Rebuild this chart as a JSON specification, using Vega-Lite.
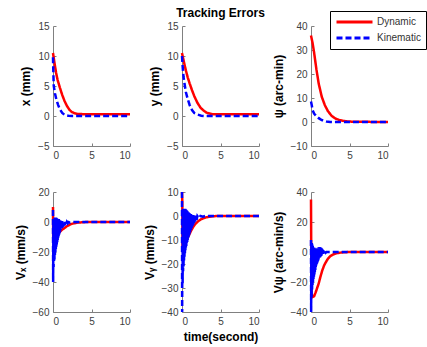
{
  "$schema": "https://vega.github.io/schema/vega-lite/v6.json",
  "padding": {"left": 14, "top": 7, "right": 5, "bottom": 5},
  "background": "white",
  "columns": 3,
  "spacing": {"column": 52, "row": 46},
  "bounds": "flush",
  "data": {"values": [
    {"p":"x","m":"Dynamic","t":0,"v":10.5},{"p":"x","m":"Dynamic","t":0.2,"v":8.8},{"p":"x","m":"Dynamic","t":0.4,"v":7.2},{"p":"x","m":"Dynamic","t":0.6,"v":6},{"p":"x","m":"Dynamic","t":0.9,"v":4.7},{"p":"x","m":"Dynamic","t":1.2,"v":3.5},{"p":"x","m":"Dynamic","t":1.5,"v":2.5},{"p":"x","m":"Dynamic","t":1.8,"v":1.7},{"p":"x","m":"Dynamic","t":2.1,"v":1.1},{"p":"x","m":"Dynamic","t":2.4,"v":0.7},{"p":"x","m":"Dynamic","t":2.8,"v":0.45},{"p":"x","m":"Dynamic","t":3.2,"v":0.35},{"p":"x","m":"Dynamic","t":4,"v":0.3},{"p":"x","m":"Dynamic","t":10,"v":0.3},
    {"p":"x","m":"Kinematic","t":0,"v":9.8},{"p":"x","m":"Kinematic","t":0.05,"v":7},{"p":"x","m":"Kinematic","t":0.1,"v":5},{"p":"x","m":"Kinematic","t":0.25,"v":3.8},{"p":"x","m":"Kinematic","t":0.45,"v":2.7},{"p":"x","m":"Kinematic","t":0.65,"v":1.9},{"p":"x","m":"Kinematic","t":0.9,"v":1.1},{"p":"x","m":"Kinematic","t":1.2,"v":0.5},{"p":"x","m":"Kinematic","t":1.5,"v":0.2},{"p":"x","m":"Kinematic","t":2,"v":0.05},{"p":"x","m":"Kinematic","t":2.5,"v":0},{"p":"x","m":"Kinematic","t":10,"v":0},

    {"p":"y","m":"Dynamic","t":0,"v":10.5},{"p":"y","m":"Dynamic","t":0.25,"v":9},{"p":"y","m":"Dynamic","t":0.5,"v":7.6},{"p":"y","m":"Dynamic","t":0.75,"v":6.4},{"p":"y","m":"Dynamic","t":1,"v":5.4},{"p":"y","m":"Dynamic","t":1.3,"v":4.3},{"p":"y","m":"Dynamic","t":1.6,"v":3.3},{"p":"y","m":"Dynamic","t":2,"v":2.2},{"p":"y","m":"Dynamic","t":2.4,"v":1.4},{"p":"y","m":"Dynamic","t":2.8,"v":0.9},{"p":"y","m":"Dynamic","t":3.2,"v":0.55},{"p":"y","m":"Dynamic","t":3.6,"v":0.4},{"p":"y","m":"Dynamic","t":4,"v":0.3},{"p":"y","m":"Dynamic","t":10,"v":0.3},
    {"p":"y","m":"Kinematic","t":0,"v":10},{"p":"y","m":"Kinematic","t":0.1,"v":8},{"p":"y","m":"Kinematic","t":0.2,"v":6.5},{"p":"y","m":"Kinematic","t":0.35,"v":5.2},{"p":"y","m":"Kinematic","t":0.5,"v":4},{"p":"y","m":"Kinematic","t":0.75,"v":2.8},{"p":"y","m":"Kinematic","t":1,"v":1.8},{"p":"y","m":"Kinematic","t":1.3,"v":1},{"p":"y","m":"Kinematic","t":1.6,"v":0.5},{"p":"y","m":"Kinematic","t":2,"v":0.25},{"p":"y","m":"Kinematic","t":2.5,"v":0.05},{"p":"y","m":"Kinematic","t":3,"v":0},{"p":"y","m":"Kinematic","t":10,"v":0},

    {"p":"psi","m":"Dynamic","t":0,"v":36},{"p":"psi","m":"Dynamic","t":0.2,"v":33},{"p":"psi","m":"Dynamic","t":0.4,"v":29},{"p":"psi","m":"Dynamic","t":0.7,"v":22},{"p":"psi","m":"Dynamic","t":1,"v":16},{"p":"psi","m":"Dynamic","t":1.4,"v":10.5},{"p":"psi","m":"Dynamic","t":1.8,"v":7},{"p":"psi","m":"Dynamic","t":2.2,"v":4.5},{"p":"psi","m":"Dynamic","t":2.7,"v":2.5},{"p":"psi","m":"Dynamic","t":3.2,"v":1.4},{"p":"psi","m":"Dynamic","t":3.7,"v":0.8},{"p":"psi","m":"Dynamic","t":4.5,"v":0.3},{"p":"psi","m":"Dynamic","t":5.5,"v":0.1},{"p":"psi","m":"Dynamic","t":10,"v":0},
    {"p":"psi","m":"Kinematic","t":0,"v":8.5},{"p":"psi","m":"Kinematic","t":0.1,"v":7},{"p":"psi","m":"Kinematic","t":0.2,"v":5},{"p":"psi","m":"Kinematic","t":0.4,"v":3.5},{"p":"psi","m":"Kinematic","t":0.6,"v":2.8},{"p":"psi","m":"Kinematic","t":0.8,"v":2.2},{"p":"psi","m":"Kinematic","t":1,"v":1.6},{"p":"psi","m":"Kinematic","t":1.3,"v":1},{"p":"psi","m":"Kinematic","t":1.6,"v":0.5},{"p":"psi","m":"Kinematic","t":2,"v":0.2},{"p":"psi","m":"Kinematic","t":2.5,"v":0.05},{"p":"psi","m":"Kinematic","t":3,"v":0},{"p":"psi","m":"Kinematic","t":10,"v":0},

    {"p":"vx","m":"Dynamic","t":0,"v":10},{"p":"vx","m":"Dynamic","t":0.03,"v":-12},{"p":"vx","m":"Dynamic","t":0.3,"v":-10.5},{"p":"vx","m":"Dynamic","t":0.6,"v":-8.5},{"p":"vx","m":"Dynamic","t":0.9,"v":-6.5},{"p":"vx","m":"Dynamic","t":1.2,"v":-5},{"p":"vx","m":"Dynamic","t":1.5,"v":-4},{"p":"vx","m":"Dynamic","t":1.8,"v":-2.8},{"p":"vx","m":"Dynamic","t":2.1,"v":-2},{"p":"vx","m":"Dynamic","t":2.4,"v":-1.3},{"p":"vx","m":"Dynamic","t":2.8,"v":-0.8},{"p":"vx","m":"Dynamic","t":3.2,"v":-0.4},{"p":"vx","m":"Dynamic","t":4,"v":-0.1},{"p":"vx","m":"Dynamic","t":5,"v":0},{"p":"vx","m":"Dynamic","t":10,"v":0},
    {"p":"vx","m":"Kinematic","t":0,"v":8},{"p":"vx","m":"Kinematic","t":0.02,"v":-40},{"p":"vx","m":"Kinematic","t":0.05,"v":2},{"p":"vx","m":"Kinematic","t":0.08,"v":-30},{"p":"vx","m":"Kinematic","t":0.1,"v":3},{"p":"vx","m":"Kinematic","t":0.13,"v":-27},{"p":"vx","m":"Kinematic","t":0.16,"v":3},{"p":"vx","m":"Kinematic","t":0.19,"v":-25},{"p":"vx","m":"Kinematic","t":0.22,"v":3},{"p":"vx","m":"Kinematic","t":0.25,"v":-22},{"p":"vx","m":"Kinematic","t":0.28,"v":3},{"p":"vx","m":"Kinematic","t":0.31,"v":-20},{"p":"vx","m":"Kinematic","t":0.34,"v":3},{"p":"vx","m":"Kinematic","t":0.37,"v":-18},{"p":"vx","m":"Kinematic","t":0.4,"v":3},{"p":"vx","m":"Kinematic","t":0.43,"v":-16.5},{"p":"vx","m":"Kinematic","t":0.46,"v":2.5},{"p":"vx","m":"Kinematic","t":0.49,"v":-15},{"p":"vx","m":"Kinematic","t":0.52,"v":2.5},{"p":"vx","m":"Kinematic","t":0.55,"v":-13.5},{"p":"vx","m":"Kinematic","t":0.58,"v":2.5},{"p":"vx","m":"Kinematic","t":0.61,"v":-12},{"p":"vx","m":"Kinematic","t":0.64,"v":2},{"p":"vx","m":"Kinematic","t":0.67,"v":-10.5},{"p":"vx","m":"Kinematic","t":0.7,"v":2},{"p":"vx","m":"Kinematic","t":0.73,"v":-9.5},{"p":"vx","m":"Kinematic","t":0.76,"v":2},{"p":"vx","m":"Kinematic","t":0.79,"v":-8.5},{"p":"vx","m":"Kinematic","t":0.82,"v":1.5},{"p":"vx","m":"Kinematic","t":0.85,"v":-7.5},{"p":"vx","m":"Kinematic","t":0.88,"v":1.5},{"p":"vx","m":"Kinematic","t":0.91,"v":-6.5},{"p":"vx","m":"Kinematic","t":0.94,"v":1.2},{"p":"vx","m":"Kinematic","t":0.97,"v":-5.8},{"p":"vx","m":"Kinematic","t":1,"v":1},{"p":"vx","m":"Kinematic","t":1.05,"v":-5},{"p":"vx","m":"Kinematic","t":1.1,"v":0.8},{"p":"vx","m":"Kinematic","t":1.15,"v":-4.2},{"p":"vx","m":"Kinematic","t":1.2,"v":0.6},{"p":"vx","m":"Kinematic","t":1.25,"v":-3.6},{"p":"vx","m":"Kinematic","t":1.3,"v":0.4},{"p":"vx","m":"Kinematic","t":1.35,"v":-3},{"p":"vx","m":"Kinematic","t":1.4,"v":0.3},{"p":"vx","m":"Kinematic","t":1.45,"v":-2.5},{"p":"vx","m":"Kinematic","t":1.5,"v":0.2},{"p":"vx","m":"Kinematic","t":1.55,"v":-2},{"p":"vx","m":"Kinematic","t":1.6,"v":0.1},{"p":"vx","m":"Kinematic","t":1.7,"v":-1.4},{"p":"vx","m":"Kinematic","t":1.8,"v":0},{"p":"vx","m":"Kinematic","t":1.9,"v":-0.9},{"p":"vx","m":"Kinematic","t":2,"v":0},{"p":"vx","m":"Kinematic","t":2.2,"v":-0.4},{"p":"vx","m":"Kinematic","t":2.5,"v":0},{"p":"vx","m":"Kinematic","t":10,"v":0},

    {"p":"vy","m":"Dynamic","t":0,"v":10},{"p":"vy","m":"Dynamic","t":0.04,"v":6},{"p":"vy","m":"Dynamic","t":0.07,"v":-14},{"p":"vy","m":"Dynamic","t":0.3,"v":-12.5},{"p":"vy","m":"Dynamic","t":0.6,"v":-10},{"p":"vy","m":"Dynamic","t":0.9,"v":-8},{"p":"vy","m":"Dynamic","t":1.2,"v":-6},{"p":"vy","m":"Dynamic","t":1.5,"v":-4.3},{"p":"vy","m":"Dynamic","t":1.8,"v":-3.1},{"p":"vy","m":"Dynamic","t":2.1,"v":-2.2},{"p":"vy","m":"Dynamic","t":2.4,"v":-1.5},{"p":"vy","m":"Dynamic","t":2.8,"v":-0.9},{"p":"vy","m":"Dynamic","t":3.2,"v":-0.5},{"p":"vy","m":"Dynamic","t":3.8,"v":-0.2},{"p":"vy","m":"Dynamic","t":4.5,"v":0},{"p":"vy","m":"Dynamic","t":10,"v":0},
    {"p":"vy","m":"Kinematic","t":0,"v":10},{"p":"vy","m":"Kinematic","t":0.02,"v":-40},{"p":"vy","m":"Kinematic","t":0.05,"v":3},{"p":"vy","m":"Kinematic","t":0.08,"v":-28},{"p":"vy","m":"Kinematic","t":0.11,"v":3},{"p":"vy","m":"Kinematic","t":0.14,"v":-23},{"p":"vy","m":"Kinematic","t":0.17,"v":3},{"p":"vy","m":"Kinematic","t":0.2,"v":-21},{"p":"vy","m":"Kinematic","t":0.23,"v":3},{"p":"vy","m":"Kinematic","t":0.26,"v":-19},{"p":"vy","m":"Kinematic","t":0.29,"v":3},{"p":"vy","m":"Kinematic","t":0.32,"v":-17},{"p":"vy","m":"Kinematic","t":0.35,"v":3},{"p":"vy","m":"Kinematic","t":0.38,"v":-15.5},{"p":"vy","m":"Kinematic","t":0.41,"v":3},{"p":"vy","m":"Kinematic","t":0.44,"v":-14.5},{"p":"vy","m":"Kinematic","t":0.47,"v":2.8},{"p":"vy","m":"Kinematic","t":0.5,"v":-13.5},{"p":"vy","m":"Kinematic","t":0.53,"v":2.6},{"p":"vy","m":"Kinematic","t":0.56,"v":-12.5},{"p":"vy","m":"Kinematic","t":0.59,"v":2.4},{"p":"vy","m":"Kinematic","t":0.62,"v":-11.5},{"p":"vy","m":"Kinematic","t":0.65,"v":2.2},{"p":"vy","m":"Kinematic","t":0.68,"v":-10.8},{"p":"vy","m":"Kinematic","t":0.71,"v":2},{"p":"vy","m":"Kinematic","t":0.74,"v":-10},{"p":"vy","m":"Kinematic","t":0.77,"v":1.8},{"p":"vy","m":"Kinematic","t":0.8,"v":-9.3},{"p":"vy","m":"Kinematic","t":0.83,"v":1.6},{"p":"vy","m":"Kinematic","t":0.86,"v":-8.6},{"p":"vy","m":"Kinematic","t":0.89,"v":1.4},{"p":"vy","m":"Kinematic","t":0.92,"v":-8},{"p":"vy","m":"Kinematic","t":0.95,"v":1.2},{"p":"vy","m":"Kinematic","t":0.98,"v":-7.4},{"p":"vy","m":"Kinematic","t":1.01,"v":1},{"p":"vy","m":"Kinematic","t":1.06,"v":-6.6},{"p":"vy","m":"Kinematic","t":1.11,"v":0.8},{"p":"vy","m":"Kinematic","t":1.16,"v":-5.8},{"p":"vy","m":"Kinematic","t":1.21,"v":0.6},{"p":"vy","m":"Kinematic","t":1.26,"v":-5},{"p":"vy","m":"Kinematic","t":1.31,"v":0.5},{"p":"vy","m":"Kinematic","t":1.36,"v":-4.3},{"p":"vy","m":"Kinematic","t":1.41,"v":0.4},{"p":"vy","m":"Kinematic","t":1.46,"v":-3.6},{"p":"vy","m":"Kinematic","t":1.51,"v":0.3},{"p":"vy","m":"Kinematic","t":1.56,"v":-3},{"p":"vy","m":"Kinematic","t":1.61,"v":0.2},{"p":"vy","m":"Kinematic","t":1.7,"v":-2.3},{"p":"vy","m":"Kinematic","t":1.8,"v":0.1},{"p":"vy","m":"Kinematic","t":1.9,"v":-1.6},{"p":"vy","m":"Kinematic","t":2,"v":0},{"p":"vy","m":"Kinematic","t":2.2,"v":-0.9},{"p":"vy","m":"Kinematic","t":2.4,"v":0},{"p":"vy","m":"Kinematic","t":2.7,"v":-0.3},{"p":"vy","m":"Kinematic","t":3,"v":0},{"p":"vy","m":"Kinematic","t":10,"v":0},

    {"p":"vpsi","m":"Dynamic","t":0,"v":35},{"p":"vpsi","m":"Dynamic","t":0.03,"v":0},{"p":"vpsi","m":"Dynamic","t":0.08,"v":-28},{"p":"vpsi","m":"Dynamic","t":0.2,"v":-30},{"p":"vpsi","m":"Dynamic","t":0.4,"v":-29.5},{"p":"vpsi","m":"Dynamic","t":0.6,"v":-27},{"p":"vpsi","m":"Dynamic","t":0.8,"v":-24},{"p":"vpsi","m":"Dynamic","t":1,"v":-21},{"p":"vpsi","m":"Dynamic","t":1.2,"v":-17},{"p":"vpsi","m":"Dynamic","t":1.45,"v":-12.5},{"p":"vpsi","m":"Dynamic","t":1.7,"v":-9},{"p":"vpsi","m":"Dynamic","t":1.9,"v":-7},{"p":"vpsi","m":"Dynamic","t":2.2,"v":-4.5},{"p":"vpsi","m":"Dynamic","t":2.5,"v":-2.8},{"p":"vpsi","m":"Dynamic","t":2.9,"v":-1.6},{"p":"vpsi","m":"Dynamic","t":3.3,"v":-0.8},{"p":"vpsi","m":"Dynamic","t":4,"v":-0.3},{"p":"vpsi","m":"Dynamic","t":5,"v":0},{"p":"vpsi","m":"Dynamic","t":10,"v":0},
    {"p":"vpsi","m":"Kinematic","t":0,"v":8},{"p":"vpsi","m":"Kinematic","t":0.02,"v":-40},{"p":"vpsi","m":"Kinematic","t":0.05,"v":7},{"p":"vpsi","m":"Kinematic","t":0.08,"v":-30},{"p":"vpsi","m":"Kinematic","t":0.11,"v":6},{"p":"vpsi","m":"Kinematic","t":0.14,"v":-25},{"p":"vpsi","m":"Kinematic","t":0.17,"v":5},{"p":"vpsi","m":"Kinematic","t":0.2,"v":-22},{"p":"vpsi","m":"Kinematic","t":0.23,"v":4},{"p":"vpsi","m":"Kinematic","t":0.26,"v":-20},{"p":"vpsi","m":"Kinematic","t":0.29,"v":3.5},{"p":"vpsi","m":"Kinematic","t":0.32,"v":-18},{"p":"vpsi","m":"Kinematic","t":0.35,"v":3},{"p":"vpsi","m":"Kinematic","t":0.38,"v":-16.5},{"p":"vpsi","m":"Kinematic","t":0.41,"v":3},{"p":"vpsi","m":"Kinematic","t":0.44,"v":-15},{"p":"vpsi","m":"Kinematic","t":0.47,"v":2.5},{"p":"vpsi","m":"Kinematic","t":0.5,"v":-13.5},{"p":"vpsi","m":"Kinematic","t":0.53,"v":2.5},{"p":"vpsi","m":"Kinematic","t":0.56,"v":-12},{"p":"vpsi","m":"Kinematic","t":0.59,"v":2.5},{"p":"vpsi","m":"Kinematic","t":0.62,"v":-10.5},{"p":"vpsi","m":"Kinematic","t":0.65,"v":2.5},{"p":"vpsi","m":"Kinematic","t":0.68,"v":-9.5},{"p":"vpsi","m":"Kinematic","t":0.71,"v":2.5},{"p":"vpsi","m":"Kinematic","t":0.74,"v":-8.5},{"p":"vpsi","m":"Kinematic","t":0.77,"v":2.5},{"p":"vpsi","m":"Kinematic","t":0.8,"v":-7.5},{"p":"vpsi","m":"Kinematic","t":0.83,"v":2.7},{"p":"vpsi","m":"Kinematic","t":0.86,"v":-6.5},{"p":"vpsi","m":"Kinematic","t":0.89,"v":2.9},{"p":"vpsi","m":"Kinematic","t":0.92,"v":-5.8},{"p":"vpsi","m":"Kinematic","t":0.95,"v":3},{"p":"vpsi","m":"Kinematic","t":0.98,"v":-5},{"p":"vpsi","m":"Kinematic","t":1.01,"v":3.2},{"p":"vpsi","m":"Kinematic","t":1.06,"v":-4.3},{"p":"vpsi","m":"Kinematic","t":1.11,"v":3.3},{"p":"vpsi","m":"Kinematic","t":1.16,"v":-3.6},{"p":"vpsi","m":"Kinematic","t":1.21,"v":3.2},{"p":"vpsi","m":"Kinematic","t":1.26,"v":-3},{"p":"vpsi","m":"Kinematic","t":1.31,"v":2.8},{"p":"vpsi","m":"Kinematic","t":1.36,"v":-2.5},{"p":"vpsi","m":"Kinematic","t":1.41,"v":2.2},{"p":"vpsi","m":"Kinematic","t":1.46,"v":-2},{"p":"vpsi","m":"Kinematic","t":1.51,"v":1.6},{"p":"vpsi","m":"Kinematic","t":1.56,"v":-1.5},{"p":"vpsi","m":"Kinematic","t":1.61,"v":1},{"p":"vpsi","m":"Kinematic","t":1.7,"v":-1},{"p":"vpsi","m":"Kinematic","t":1.8,"v":0.5},{"p":"vpsi","m":"Kinematic","t":1.9,"v":-0.5},{"p":"vpsi","m":"Kinematic","t":2,"v":0},{"p":"vpsi","m":"Kinematic","t":10,"v":0}
  ]},
  "concat": [
    {
      "width": 77, "height": 120,
      "transform": [{"filter": "datum.p === 'x'"}],
      "mark": {"type": "line", "strokeWidth": 2.5},
      "encoding": {
        "x": {"field": "t", "type": "quantitative", "scale": {"domain": [0, 10], "nice": false}, "axis": {"values": [0, 5, 10], "title": null}},
        "y": {"field": "v", "type": "quantitative", "scale": {"domain": [-5, 15], "nice": false}, "axis": {"values": [-5, 0, 5, 10, 15], "title": "x (mm)"}},
        "color": {"field": "m", "type": "nominal", "scale": {"domain": ["Dynamic", "Kinematic"], "range": ["#ff0000", "#0000ff"]}, "legend": {"title": null}},
        "strokeDash": {"field": "m", "type": "nominal", "scale": {"domain": ["Dynamic", "Kinematic"], "range": [[1, 0], [6, 3]]}, "legend": {"title": null}}
      }
    },
    {
      "width": 77, "height": 120,
      "title": {"text": "Tracking Errors", "fontSize": 12, "fontWeight": "bold", "font": "Liberation Sans", "color": "#000000", "offset": 1},
      "transform": [{"filter": "datum.p === 'y'"}],
      "mark": {"type": "line", "strokeWidth": 2.5},
      "encoding": {
        "x": {"field": "t", "type": "quantitative", "scale": {"domain": [0, 10], "nice": false}, "axis": {"values": [0, 5, 10], "title": null}},
        "y": {"field": "v", "type": "quantitative", "scale": {"domain": [-5, 15], "nice": false}, "axis": {"values": [-5, 0, 5, 10, 15], "title": "y (mm)"}},
        "color": {"field": "m", "type": "nominal", "scale": {"domain": ["Dynamic", "Kinematic"], "range": ["#ff0000", "#0000ff"]}, "legend": {"title": null}},
        "strokeDash": {"field": "m", "type": "nominal", "scale": {"domain": ["Dynamic", "Kinematic"], "range": [[1, 0], [6, 3]]}, "legend": {"title": null}}
      }
    },
    {
      "width": 77, "height": 120,
      "transform": [{"filter": "datum.p === 'psi'"}],
      "mark": {"type": "line", "strokeWidth": 2.5},
      "encoding": {
        "x": {"field": "t", "type": "quantitative", "scale": {"domain": [0, 10], "nice": false}, "axis": {"values": [0, 5, 10], "title": null}},
        "y": {"field": "v", "type": "quantitative", "scale": {"domain": [-10, 40], "nice": false}, "axis": {"values": [-10, 0, 10, 20, 30, 40], "title": "ψ (arc-min)"}},
        "color": {"field": "m", "type": "nominal", "scale": {"domain": ["Dynamic", "Kinematic"], "range": ["#ff0000", "#0000ff"]}, "legend": {"title": null}},
        "strokeDash": {"field": "m", "type": "nominal", "scale": {"domain": ["Dynamic", "Kinematic"], "range": [[1, 0], [6, 3]]}, "legend": {"title": null}}
      }
    },
    {
      "width": 77, "height": 120,
      "transform": [{"filter": "datum.p === 'vx'"}],
      "mark": {"type": "line", "strokeWidth": 2.5},
      "encoding": {
        "x": {"field": "t", "type": "quantitative", "scale": {"domain": [0, 10], "nice": false}, "axis": {"values": [0, 5, 10], "title": null}},
        "y": {"field": "v", "type": "quantitative", "scale": {"domain": [-60, 20], "nice": false}, "axis": {"values": [-60, -40, -20, 0, 20], "title": "Vₓ (mm/s)"}},
        "color": {"field": "m", "type": "nominal", "scale": {"domain": ["Dynamic", "Kinematic"], "range": ["#ff0000", "#0000ff"]}, "legend": {"title": null}},
        "strokeDash": {"field": "m", "type": "nominal", "scale": {"domain": ["Dynamic", "Kinematic"], "range": [[1, 0], [6, 3]]}, "legend": {"title": null}}
      }
    },
    {
      "width": 77, "height": 120,
      "transform": [{"filter": "datum.p === 'vy'"}],
      "mark": {"type": "line", "strokeWidth": 2.5},
      "encoding": {
        "x": {"field": "t", "type": "quantitative", "scale": {"domain": [0, 10], "nice": false}, "axis": {"values": [0, 5, 10], "title": "time(second)"}},
        "y": {"field": "v", "type": "quantitative", "scale": {"domain": [-40, 10], "nice": false}, "axis": {"values": [-40, -30, -20, -10, 0, 10], "title": "Vᵧ (mm/s)"}},
        "color": {"field": "m", "type": "nominal", "scale": {"domain": ["Dynamic", "Kinematic"], "range": ["#ff0000", "#0000ff"]}, "legend": {"title": null}},
        "strokeDash": {"field": "m", "type": "nominal", "scale": {"domain": ["Dynamic", "Kinematic"], "range": [[1, 0], [6, 3]]}, "legend": {"title": null}}
      }
    },
    {
      "width": 77, "height": 120,
      "transform": [{"filter": "datum.p === 'vpsi'"}],
      "mark": {"type": "line", "strokeWidth": 2.5},
      "encoding": {
        "x": {"field": "t", "type": "quantitative", "scale": {"domain": [0, 10], "nice": false}, "axis": {"values": [0, 5, 10], "title": null}},
        "y": {"field": "v", "type": "quantitative", "scale": {"domain": [-40, 40], "nice": false}, "axis": {"values": [-40, -20, 0, 20, 40], "title": "Vψ (arc-min/s)"}},
        "color": {"field": "m", "type": "nominal", "scale": {"domain": ["Dynamic", "Kinematic"], "range": ["#ff0000", "#0000ff"]}, "legend": {"title": null}},
        "strokeDash": {"field": "m", "type": "nominal", "scale": {"domain": ["Dynamic", "Kinematic"], "range": [[1, 0], [6, 3]]}, "legend": {"title": null}}
      }
    }
  ],
  "config": {
    "view": {"stroke": null},
    "font": "Liberation Sans",
    "axis": {
      "grid": false,
      "domainColor": "#808080",
      "domainWidth": 1,
      "tickColor": "#808080",
      "tickSize": -3,
      "labelPadding": 7,
      "labelColor": "#404040",
      "labelFont": "Liberation Sans",
      "labelFontSize": 10,
      "titleFont": "Liberation Sans",
      "titleFontSize": 12,
      "titleFontWeight": "bold",
      "titleColor": "#000000",
      "titlePadding": 5
    },
    "legend": {
      "orient": "none",
      "legendX": 277,
      "legendY": -15,
      "strokeColor": "#000000",
      "fillColor": "#ffffff",
      "padding": 5,
      "rowPadding": 4,
      "clipHeight": 12,
      "symbolType": "stroke",
      "symbolSize": 1296,
      "symbolStrokeWidth": 3,
      "labelFont": "Liberation Sans",
      "labelFontSize": 10,
      "labelColor": "#333333",
      "labelOffset": 3
    }
  }
}
